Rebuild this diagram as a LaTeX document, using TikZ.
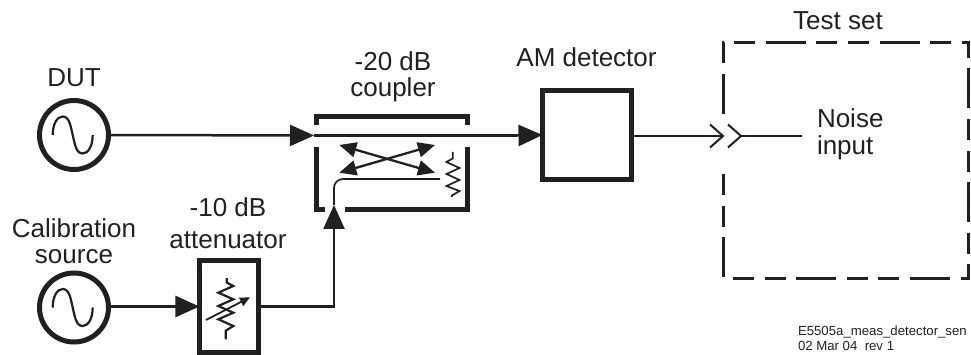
\documentclass[tikz,border=0pt]{standalone}
\usepackage{fontspec}
\setmainfont{Liberation Sans}
\usetikzlibrary{arrows.meta}
\definecolor{ink}{HTML}{231F20}
\tikzset{
  x=1pt,y=-1pt,
  lab/.style={font=\fontsize{26}{30}\selectfont,text=ink,inner sep=0pt,outer sep=0pt,anchor=base},
  small/.style={font=\fontsize{13.2}{16}\selectfont,text=ink,inner sep=0pt,outer sep=0pt,anchor=base west},
  src/.style={circle,draw=ink,line width=5pt,minimum size=69pt,inner sep=0pt,outer sep=0pt},
  blk/.style={rectangle,draw=ink,line width=5pt,inner sep=0pt,outer sep=0pt},
  wire/.style={draw=ink,line width=2.5pt},
  thin wire/.style={draw=ink,line width=1.7pt,line join=miter},
  flow/.style={wire,-{Triangle[length=24pt,width=21pt,color=ink]}},
  dbl/.style={draw=ink,line width=2.3pt,{Triangle[length=17pt,width=15pt,color=ink]}-{Triangle[length=17pt,width=15pt,color=ink]}},
  wall/.style={draw=ink,line width=5pt,line cap=butt,line join=miter},
  sine/.style={draw=ink,line width=2.2pt}
}
\newcommand{\sinewave}[1]{\draw[sine] ([xshift=-21.3pt]#1.center) .. controls +(0,-11) and +(-5.5,0) .. ([xshift=-11.3pt,yshift=18.5pt]#1.center) .. controls +(7,0) and +(-2,-8) .. ([xshift=-1.3pt]#1.center) .. controls +(2,8) and +(-7,0) .. ([xshift=8.7pt,yshift=-18.5pt]#1.center) .. controls +(5.5,0) and +(0,11) .. ([xshift=18.7pt]#1.center);}
\begin{document}
\begin{tikzpicture}
\useasboundingbox (0,0) rectangle (971,355);
% sources
\node[src] (dut) at (74,135) {};
\node[src] (cal) at (74,307.5) {};
\sinewave{dut}
\sinewave{cal}
% blocks
\node[blk,minimum width=59.5pt,minimum height=92pt] (att) at (229.2,306.5) {};
\node[blk,minimum width=89pt,minimum height=89pt] (am) at (587,135) {};
% coupler body
\coordinate (cin) at (314,135.5);
\coordinate (cout) at (517,135.5);
\coordinate (cpin) at (334,205);
\coordinate (term) at (440,179);
\coordinate (bend) at (334,306.5);
\draw[wall] (316,125) -- (316,117) -- (467,117) -- (467,125);
\draw[wall] (316,147) -- (316,210) -- (325,210);
\draw[wall] (345,210) -- (467,210) -- (467,147);
% coupler arrows
\coordinate (xa) at (339.3,145);
\coordinate (xb) at (435,172.7);
\coordinate (xc) at (435,145);
\coordinate (xd) at (339.3,172.7);
\path[dbl] (xa) -- (xb);
\path[dbl] (xc) -- (xd);
% main path
\draw[flow] (dut.east) -- (cin);
\draw[wire] (cin) -- (cout);
\draw[flow] (cout) -- (am.west);
\draw[flow] (cal.east |- att.west) -- (att.west);
\draw[flow] (att.east) -- (bend) -- (cpin);
\draw[thin wire,rounded corners=9pt] (cpin) -- (334,179) -- (term);
% coupler terminator
\draw[thin wire] (452.7,152) -- (452.7,158.5) -- (446.5,162) -- (459.5,168) -- (446.5,174) -- (459.5,180) -- (446.5,186) -- (459.5,191) -- (452,195.5) -- (452,197);
% variable attenuator element
\draw[sine] (226.7,278) -- (226.7,282.5) -- (233.3,286) -- (218.3,292.7) -- (233.3,299.3) -- (218.3,306) -- (233.3,312.7) -- (218.3,319.3) -- (233.3,326) -- (225.7,330.7) -- (225.7,339.3);
\draw[draw=ink,line width=1.8pt,-{Triangle[length=10pt,width=9pt,color=ink]}] (206,320) -- (250,297.3);
% test set
\coordinate (tsa) at (723,114);
\coordinate (tsb) at (968,43);
\coordinate (tsc) at (723,167);
\draw[draw=ink,line width=3pt,line cap=butt,line join=miter,dash pattern=on 40pt off 10.6pt on 21pt off 10.6pt on 21pt off 10.6pt]
  (tsa) -- (723,43) -- (tsb) -- (968,278) -- (723,278) -- (tsc);
% connector
\coordinate (ja) at (723,136);
\coordinate (jb) at (741,136);
\coordinate (jend) at (802,136);
\draw[wire] (am.east |- ja) -- (ja);
\draw[wire] (jb) -- (jend);
\draw[draw=ink,line width=2pt,line join=miter] (710,124.5) -- (ja) -- (710,147.5);
\draw[draw=ink,line width=2pt,line join=miter] (728,124.5) -- (jb) -- (728,147.5);
% labels
\node[lab] (l1) at (74,87) {DUT};
\node[lab] (l2) at (74,237) {Calibration};
\node[lab] (l3) at (74,263) {source};
\node[lab] (l4) at (228,217) {-10 dB};
\node[lab] (l5) at (228,248) {attenuator};
\node[lab] (l6) at (393,71) {-20 dB};
\node[lab] (l7) at (393,97) {coupler};
\node[lab] (l8) at (586.5,67) {AM detector};
\node[lab] (l9) at (838,30) {Test set};
\node[lab,anchor=base west] (l10) at (817,128) {Noise};
\node[lab,anchor=base west] (l11) at (817,155) {input};
\node[small] (l12) at (798,335) {E5505a\_meas\_detector\_sen};
\node[small] (l13) at (798,350.5) {02 Mar 04\ \ rev 1};
\end{tikzpicture}
\end{document}
